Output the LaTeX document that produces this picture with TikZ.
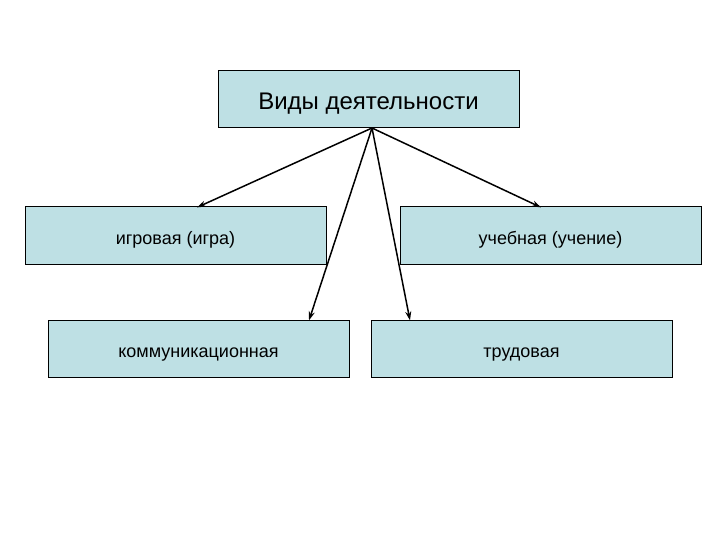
\documentclass[tikz,border=0pt]{standalone}
\usepackage{fontspec}
\setmainfont{Liberation Sans}
\usetikzlibrary{arrows.meta}
\definecolor{boxfill}{RGB}{190,224,228}
\begin{document}
\begin{tikzpicture}[x=1pt,y=-1pt,
  catbox/.style={draw=black,line width=1pt,fill=boxfill,minimum width=301pt,minimum height=57pt,inner sep=0pt,text height=18pt,text depth=0pt,font=\fontsize{18}{21}\selectfont},
  topbox/.style={catbox,text height=21pt,font=\fontsize{24}{28}\selectfont},
  link/.style={line width=1.5pt,-{Stealth[length=9pt,width=6pt]}}]
\useasboundingbox (0,0) rectangle (720,540);
\node[topbox] (top) at (368.5,99.5) {Виды деятельности};
\node[catbox] (play) at (175.5,235.5) {игровая (игра)};
\node[catbox] (study) at (550.5,235.5) {учебная (учение)};
\node[catbox] (comm) at (198.5,348.5) {коммуникационная};
\node[catbox] (work) at (521.5,348.5) {трудовая};
\coordinate (o) at (372,128);
\draw[link] (o) -- (197,207.4);
\draw[link] (o) -- (541,207.4);
\draw[link] (o) -- (309,320.4);
\draw[link] (o) -- (410,320.4);
\end{tikzpicture}
\end{document}
